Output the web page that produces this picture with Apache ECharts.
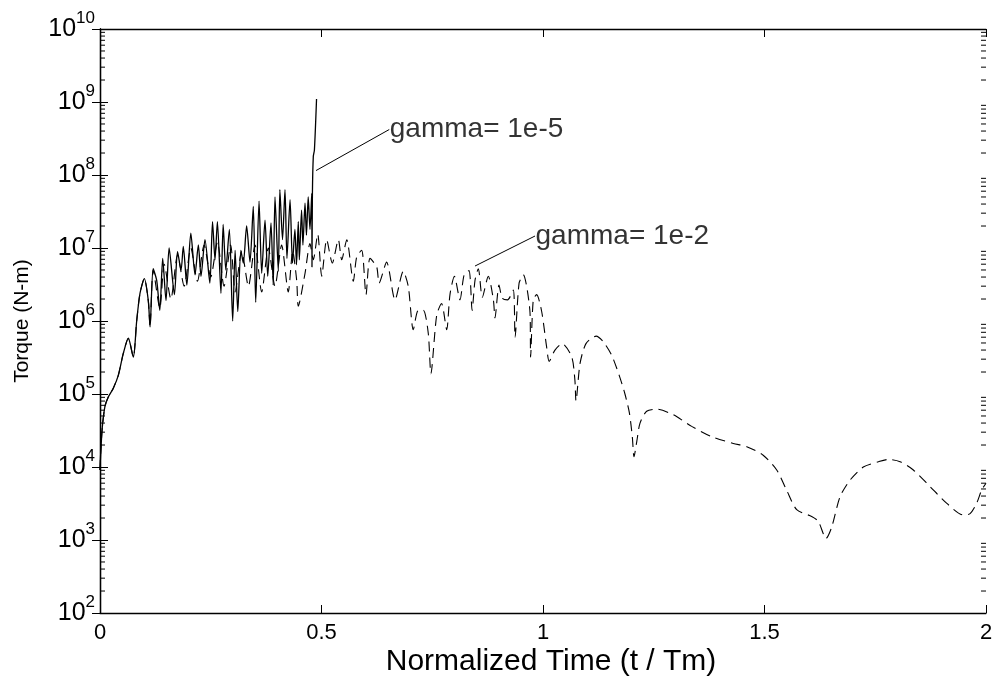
<!DOCTYPE html>
<html><head><meta charset="utf-8">
<script src="https://cdn.jsdelivr.net/npm/echarts@6/dist/echarts.min.js"></script>
<style>html,body{margin:0;padding:0;background:#fff}#c{width:997px;height:677px}</style>
</head><body><div id="c"></div>
<script>
// ---- data ----
const xTickValues = [0, 0.5, 1, 1.5, 2];
const yRange = [1e2, 1e10];
const yDecadeExponents = [2, 3, 4, 5, 6, 7, 8, 9];
const yMinorMultipliers = [2, 3, 4, 5, 6, 7, 8, 9];
const xLabelText = 'Normalized Time (t / Tm)';
const yLabelText = 'Torque (N-m)';

// gamma = 1e-5 (solid)
const gamma1e5 = [
  [0.000, 9.1e3], [0.0016, 1.55e4], [0.0052, 3.5e4], [0.0113, 6.8e4], [0.0187, 9.1e4],
  [0.030, 1.2e5], [0.0413, 1.8e5], [0.0526, 3.6e5], [0.0639, 5.8e5], [0.0752, 3.2e5],
  [0.0828, 1.0e6], [0.0903, 2.4e6], [0.100, 3.8e6], [0.109, 1.9e6], [0.113, 8.3e5],
  [0.120, 5.2e6], [0.128, 3.6e6], [0.135, 1.4e6], [0.1415, 7.2e6], [0.149, 1.9e6],
  [0.156, 1.0e7], [0.168, 2.3e6], [0.175, 8.9e6], [0.183, 5.0e6], [0.188, 1.05e7],
  [0.196, 3.1e6], [0.205, 1.6e7], [0.2145, 4.3e6], [0.222, 1.1e7], [0.228, 4.1e6],
  [0.237, 1.3e7], [0.248, 3.3e6], [0.254, 2.3e7], [0.2596, 6.9e6], [0.265, 2.3e7],
  [0.273, 2.4e6], [0.278, 2.1e7], [0.284, 5.0e6], [0.292, 1.8e7], [0.2995, 1.0e6],
  [0.305, 9.3e6], [0.311, 1.35e6], [0.318, 9.3e6], [0.3235, 6.2e6], [0.331, 2.0e7],
  [0.3386, 6.4e6], [0.346, 3.7e7], [0.3515, 1.8e6], [0.359, 4.4e7], [0.365, 4.5e6],
  [0.3725, 2.4e7], [0.3786, 4.1e6], [0.386, 2.2e7], [0.391, 3.1e6], [0.395, 5.0e7],
  [0.4025, 4.8e6], [0.406, 6.3e7], [0.412, 1.3e7], [0.4176, 6.3e7], [0.422, 7.2e6],
  [0.429, 4.6e7], [0.4345, 6.2e6], [0.440, 1.8e7], [0.4436, 5.9e6], [0.4476, 2.3e7],
  [0.450, 6.9e6], [0.455, 3.3e7], [0.458, 1.1e7], [0.4628, 4.1e7], [0.466, 1.5e7],
  [0.470, 5.0e7], [0.474, 1.8e7], [0.478, 5.6e7], [0.4785, 5.5e6], [0.4795, 5.6e7],
  [0.4815, 1.8e8], [0.484, 2.2e8], [0.4888, 1.1e9]
];

// gamma = 1e-2 (dashed)
const gamma1e2 = [
  [0.000, 9.1e3], [0.0016, 1.55e4], [0.0052, 3.5e4], [0.0113, 6.8e4], [0.0187, 9.1e4],
  [0.030, 1.2e5], [0.0413, 1.8e5], [0.0526, 3.6e5], [0.0639, 5.8e5], [0.0752, 3.2e5],
  [0.0828, 1.0e6], [0.0903, 2.4e6], [0.100, 3.8e6], [0.109, 1.9e6], [0.113, 8.3e5],
  [0.120, 5.0e6], [0.135, 1.5e6], [0.145, 6.0e6], [0.160, 2.0e6], [0.175, 8.0e6],
  [0.190, 3.0e6], [0.205, 1.0e7], [0.220, 3.5e6], [0.235, 1.1e7], [0.250, 4.0e6],
  [0.265, 1.2e7], [0.280, 3.0e6], [0.295, 1.1e7], [0.305, 2.5e6], [0.320, 9.0e6],
  [0.335, 3.0e6], [0.350, 1.1e7], [0.365, 2.5e6], [0.380, 1.0e7], [0.395, 3.0e6],
  [0.410, 1.1e7], [0.425, 2.5e6], [0.435, 9.0e6], [0.444, 3.6e6], [0.4476, 1.6e6],
  [0.4628, 4.5e6], [0.474, 1.15e7], [0.4815, 6.9e6], [0.4914, 1.55e7], [0.5005, 4.1e6],
  [0.5117, 1.3e7], [0.5244, 6.2e6], [0.538, 1.3e7], [0.5456, 6.9e6], [0.557, 1.3e7],
  [0.5718, 3.5e6], [0.5795, 7.6e6], [0.5907, 9.3e6], [0.6005, 2.3e6], [0.6095, 7.2e6],
  [0.6246, 5.5e6], [0.630, 3.3e6], [0.647, 6.4e6], [0.666, 1.95e6], [0.6846, 4.8e6],
  [0.696, 2.95e6], [0.7072, 7.6e5], [0.7185, 1.4e6], [0.730, 1.4e6], [0.741, 6.8e5],
  [0.747, 1.9e5], [0.760, 1.2e6], [0.771, 1.74e6], [0.7826, 7.6e5], [0.790, 2.3e6],
  [0.800, 4.1e6], [0.8126, 1.95e6], [0.822, 4.3e6], [0.833, 4.9e6], [0.840, 1.4e6],
  [0.8465, 3.6e6], [0.854, 5.2e6], [0.863, 2.1e6], [0.8765, 4.1e6], [0.888, 1.95e6],
  [0.8916, 1.1e6], [0.9007, 3.1e6], [0.908, 2.05e6], [0.920, 1.95e6], [0.933, 2.65e6],
  [0.937, 6.0e5], [0.946, 3.3e6], [0.9555, 4.3e6], [0.9707, 1.3e6], [0.972, 3.2e5],
  [0.978, 1.95e6], [0.9857, 2.3e6], [0.997, 1.35e6], [1.008, 4.5e5], [1.014, 2.8e5],
  [1.027, 4.0e5], [1.0436, 4.9e5], [1.065, 3.2e5], [1.072, 1.55e5], [1.0745, 8.0e4],
  [1.0835, 2.6e5], [1.097, 4.9e5], [1.120, 6.2e5], [1.136, 5.2e5], [1.155, 3.4e5],
  [1.172, 1.8e5], [1.185, 1.0e5], [1.195, 5.5e4], [1.2016, 2.6e4], [1.2054, 1.38e4],
  [1.212, 2.3e4], [1.219, 4.0e4], [1.234, 5.8e4], [1.2567, 6.2e4], [1.294, 5.2e4],
  [1.3357, 3.6e4], [1.381, 2.6e4], [1.4296, 2.1e4], [1.460, 1.9e4], [1.497, 1.45e4],
  [1.5276, 9.1e3], [1.550, 4.8e3], [1.5727, 2.6e3], [1.6065, 2.1e3], [1.6215, 1.8e3],
  [1.639, 1.05e3], [1.6517, 1.5e3], [1.6704, 3.9e3], [1.693, 6.6e3], [1.723, 1.0e4],
  [1.757, 1.18e4], [1.7795, 1.27e4], [1.806, 1.18e4], [1.836, 9.1e3], [1.8736, 5.4e3],
  [1.911, 3.2e3], [1.9488, 2.2e3], [1.964, 2.3e3], [1.979, 3.2e3], [1.990, 4.8e3],
  [2.000, 6.0e3]
];

// annotations: text, leader line start (on curve) and end (at text)
const note5Text = 'gamma= 1e-5';
const note5Line = [[0.4876, 1.15e8], [0.653, 4.2e8]];
const note2Text = 'gamma= 1e-2';
const note2Line = [[0.8465, 5.66e6], [0.982, 1.46e7]];

// ---- chart ----
const FONT = '"Liberation Sans", Arial, Helvetica, sans-serif';
const chart = echarts.init(document.getElementById('c'), null, {renderer: 'canvas'});

const axisLine = {show: true, lineStyle: {color: '#000', width: 1.3}};
const tick = {show: true, inside: true, length: 8, lineStyle: {color: '#000', width: 1}};

function xAx(pos, showLabel) {
  return {
    type: 'value', position: pos, min: xTickValues[0], max: xTickValues[xTickValues.length - 1],
    interval: xTickValues[1] - xTickValues[0],
    axisLine: axisLine, axisTick: tick, splitLine: {show: false},
    axisLabel: {show: showLabel, color: '#000', fontSize: 22, fontFamily: FONT, margin: 9,
      showMinLabel: true, showMaxLabel: true, formatter: v => String(v)},
    name: showLabel ? xLabelText : '', nameLocation: 'middle', nameGap: 34, nameMoveOverlap: false,
    nameTextStyle: {color: '#000', fontSize: 30, fontFamily: FONT, padding: [0, 0, 0, 16]}
  };
}
function yAx(pos, showLabel) {
  return {
    type: 'log', logBase: 10, position: pos, min: yRange[0], max: yRange[1], splitNumber: 8,
    axisLine: axisLine, axisTick: tick, minorTick: {show: false}, splitLine: {show: false},
    axisLabel: {show: showLabel, margin: 5, showMinLabel: true, showMaxLabel: true,
      formatter: v => '{b|10}{s|' + Math.round(Math.log10(v)) + '}',
      rich: {
        b: {fontSize: 25, fontFamily: FONT, color: '#000', lineHeight: 39},
        s: {fontSize: 17, fontFamily: FONT, color: '#000', lineHeight: 18, verticalAlign: 'top'}
      }},
    name: showLabel ? yLabelText : '', nameLocation: 'middle', nameGap: 67, nameRotate: 90,
    nameMoveOverlap: false,
    nameTextStyle: {color: '#000', fontSize: 21, fontFamily: FONT}
  };
}

// minor tick values of the log axis (2..9 times each decade)
const minorTickData = [];
yDecadeExponents.forEach(e => yMinorMultipliers.forEach(m => minorTickData.push([xTickValues[2], m * Math.pow(10, e)])));

chart.setOption({
  animation: false,
  backgroundColor: '#fff',
  grid: {left: 100, right: 11, top: 29, bottom: 64, containLabel: false, outerBoundsMode: 'none'},
  xAxis: [xAx('bottom', true), xAx('top', false)],
  yAxis: [yAx('left', true), yAx('right', false)],
  series: [
    {type: 'custom', data: minorTickData, silent: true, clip: false, z: 6,
     renderItem: (params, api) => {
       const y = api.coord([api.value(0), api.value(1)])[1];
       const cs = params.coordSys;
       const st = {stroke: '#000', lineWidth: 1};
       return {type: 'group', children: [
         {type: 'line', shape: {x1: cs.x, y1: y, x2: cs.x + 5, y2: y}, style: st},
         {type: 'line', shape: {x1: cs.x + cs.width - 5, y1: y, x2: cs.x + cs.width, y2: y}, style: st}
       ]};
     }},
    {type: 'line', data: gamma1e2, showSymbol: false, symbol: 'none', z: 2, smooth: 0.25,
     lineStyle: {color: '#000', width: 1.1, type: [10, 6]}},
    {type: 'line', data: gamma1e5, showSymbol: false, symbol: 'none', z: 3, smooth: 0.25,
     lineStyle: {color: '#000', width: 1.3}},
    {type: 'line', data: note5Line, showSymbol: false, symbol: 'none', z: 4,
     lineStyle: {color: '#000', width: 1}},
    {type: 'line', data: note2Line, showSymbol: false, symbol: 'none', z: 4,
     lineStyle: {color: '#000', width: 1}},
    {type: 'scatter', symbolSize: 1, itemStyle: {color: 'rgba(0,0,0,0)'}, z: 5,
     data: [
       {value: note5Line[1], label: {show: true, position: 'right', distance: 0, color: '#000', fontSize: 28, fontFamily: FONT, formatter: note5Text}},
       {value: note2Line[1], label: {show: true, position: 'right', distance: 0, color: '#000', fontSize: 28, fontFamily: FONT, formatter: note2Text}}
     ]}
  ]
});
</script></body></html>
